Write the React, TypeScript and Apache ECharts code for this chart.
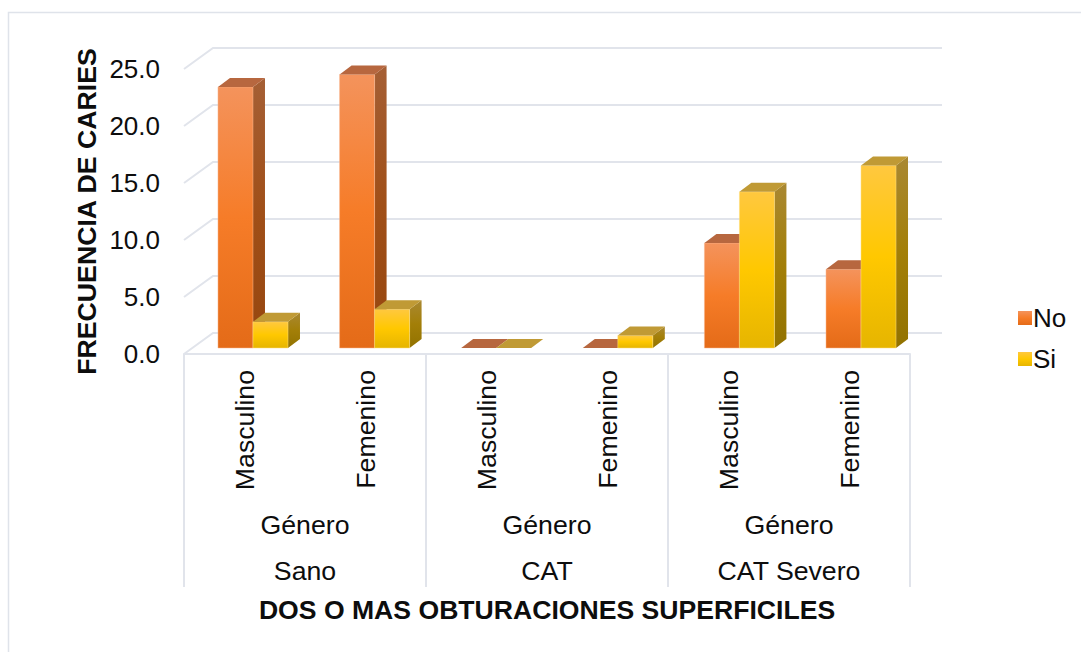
import React, { useEffect, useRef } from "react";
import * as echarts from "echarts";

const genders = ["Masculino", "Femenino", "Masculino", "Femenino", "Masculino", "Femenino"];
const subGroups = ["Género", "Género", "Género"];
const groups = ["Sano", "CAT", "CAT Severo"];
const noValues = [22.9, 24.0, 0, 0, 9.2, 6.9];
const siValues = [2.3, 3.4, 0, 1.1, 13.7, 16.0];
const wallTicks = [0, 5, 10, 15, 20, 25];

const FONT = "Liberation Sans";
const WALL = "#e1e4eb";
const WALL_DX = 29;
const WALL_RIGHT_DX = 32;
const WALL_DY = -21;
const BAR_DX = 10;
const BAR_SPREAD = 0.005;
const BAR_DY = -6;
const SIDE_DX = 12;
const SIDE_DY = -9;
const BAR_RATIO = 35 / 121;

const vgrad = (a: string, b: string, c: string) =>
  new echarts.graphic.LinearGradient(0, 0, 0, 1, [
    { offset: 0, color: a },
    { offset: 0.5, color: b },
    { offset: 1, color: c },
  ]);

const palette = {
  No: { front: ["#f4935c", "#f67c28", "#e46b18"], side: ["#a55f35", "#a04f18", "#96460f"], top: "#b7673f", edge: "#f8b68f" },
  Si: { front: ["#ffc83f", "#ffc800", "#e6b500"], side: ["#a98832", "#a37f08", "#927200"], top: "#c09a35", edge: "#ffdf80" },
};

function barRenderer(name: "No" | "Si", side: -1 | 0) {
  const p = palette[name];
  return (_params: any, api: any) => {
    const [cx, y] = api.coord([api.value(0), api.value(1)]);
    const [, y0] = api.coord([api.value(0), 0]);
    const band = api.size([1, 0])[0];
    const w = band * BAR_RATIO;
    const spread = (api.value(0) - (genders.length - 1) / 2) * band * BAR_SPREAD;
    const x0 = cx + BAR_DX + spread + side * w;
    const yt = y + BAR_DY;
    const yb = y0 + BAR_DY;
    const children: any[] = [];
    if (yb - yt > 0.01) {
      children.push({
        type: "polygon",
        shape: { points: [[x0 + w, yt], [x0 + w + SIDE_DX, yt + SIDE_DY], [x0 + w + SIDE_DX, yb + SIDE_DY], [x0 + w, yb]] },
        style: { fill: vgrad(p.side[0], p.side[1], p.side[2]) },
      });
      children.push({
        type: "rect",
        shape: { x: x0, y: yt, width: w, height: yb - yt },
        style: { fill: vgrad(p.front[0], p.front[1], p.front[2]), stroke: p.edge, lineWidth: 0.5 },
      });
    }
    children.push({
      type: "polygon",
      shape: { points: [[x0, yt], [x0 + SIDE_DX, yt + SIDE_DY], [x0 + w + SIDE_DX, yt + SIDE_DY], [x0 + w, yt]] },
      style: { fill: p.top },
    });
    return { type: "group", children };
  };
}

function wallRenderer(_params: any, api: any) {
  const v = api.value(1);
  const [cx, y] = api.coord([0, v]);
  const band = api.size([1, 0])[0];
  const left = cx - band / 2;
  const right = left + band * genders.length;
  return {
    type: "polyline",
    shape: { points: [[left, y], [left + WALL_DX, y + WALL_DY], [right + WALL_RIGHT_DX, y + WALL_DY]] },
    style: { fill: "none", stroke: WALL, lineWidth: 2 },
  };
}

export default function App() {
  const ref = useRef<HTMLDivElement>(null);
  useEffect(() => {
    const chart = echarts.init(ref.current!, undefined, { renderer: "svg" });
    const text = { fontFamily: FONT, color: "#0d0d0d", fontSize: 26.7 };
    chart.setOption({
      animation: false,
      backgroundColor: "#fff",
      textStyle: { fontFamily: FONT },
      graphic: [
        {
          type: "rect",
          shape: { x: 8.5, y: 12.5, width: 1200, height: 800 },
          style: { fill: "none", stroke: "#dfe3ea", lineWidth: 1.5 },
          silent: true,
        },
      ],
      grid: { left: 184, top: 69, width: 726, height: 285, containLabel: false, outerBoundsMode: "none" },
      legend: {
        data: ["No", "Si"],
        orient: "vertical",
        left: 1013,
        top: 300,
        icon: "rect",
        itemWidth: 14,
        itemHeight: 14,
        itemGap: 15,
        textStyle: { ...text, fontSize: 26, padding: [0, 0, 0, -4] },
        selectedMode: false,
      },
      xAxis: [
        {
          type: "category",
          position: "bottom",
          data: genders,
          axisLine: { show: false },
          axisTick: { show: false },
          axisLabel: { ...text, rotate: 90, margin: 16, interval: 0 },
        },
        {
          type: "category",
          position: "bottom",
          data: subGroups,
          axisLine: { show: false },
          axisTick: { show: false },
          axisLabel: { ...text, margin: 157, interval: 0 },
        },
        {
          type: "category",
          position: "bottom",
          data: groups,
          axisLine: { show: true, lineStyle: { color: WALL, width: 2 } },
          axisTick: { show: true, length: 233, lineStyle: { color: WALL, width: 2 } },
          axisLabel: { ...text, margin: 203, interval: 0 },
          name: "DOS O MAS OBTURACIONES SUPERFICILES",
          nameLocation: "middle",
          nameGap: 242,
          nameMoveOverlap: false,
          nameTextStyle: { ...text, fontSize: 26.6, fontWeight: "bold", verticalAlign: "top" },
        },
      ],
      yAxis: {
        type: "value",
        min: 0,
        max: 25,
        interval: 5,
        axisLine: { show: false },
        axisTick: { show: false },
        splitLine: { show: false },
        axisLabel: { ...text, fontSize: 26, margin: 24, formatter: (v: number) => v.toFixed(1) },
        name: "FRECUENCIA DE CARIES",
        nameLocation: "middle",
        nameGap: 82,
        nameMoveOverlap: false,
        nameTextStyle: { ...text, fontSize: 26.7, fontWeight: "bold", padding: [0, 0, 2, 0] },
      },
      series: [
        {
          name: "wall",
          type: "custom",
          xAxisIndex: 0,
          renderItem: wallRenderer,
          data: wallTicks.map((v) => [0, v]),
          encode: { x: 0, y: 1 },
          silent: true,
          clip: false,
        },
        {
          name: "No",
          type: "custom",
          xAxisIndex: 0,
          renderItem: barRenderer("No", -1),
          itemStyle: { color: vgrad(palette.No.front[0], palette.No.front[1], palette.No.front[2]) },
          data: noValues.map((v, i) => [i, v]),
          encode: { x: 0, y: 1 },
          clip: false,
        },
        {
          name: "Si",
          type: "custom",
          xAxisIndex: 0,
          renderItem: barRenderer("Si", 0),
          itemStyle: { color: vgrad(palette.Si.front[0], palette.Si.front[1], palette.Si.front[2]) },
          data: siValues.map((v, i) => [i, v]),
          encode: { x: 0, y: 1 },
          clip: false,
        },
      ],
    });
    return () => chart.dispose();
  }, []);
  return <div ref={ref} style={{ position: "absolute", left: 0, top: 0, width: 1081, height: 652 }} />;
}
